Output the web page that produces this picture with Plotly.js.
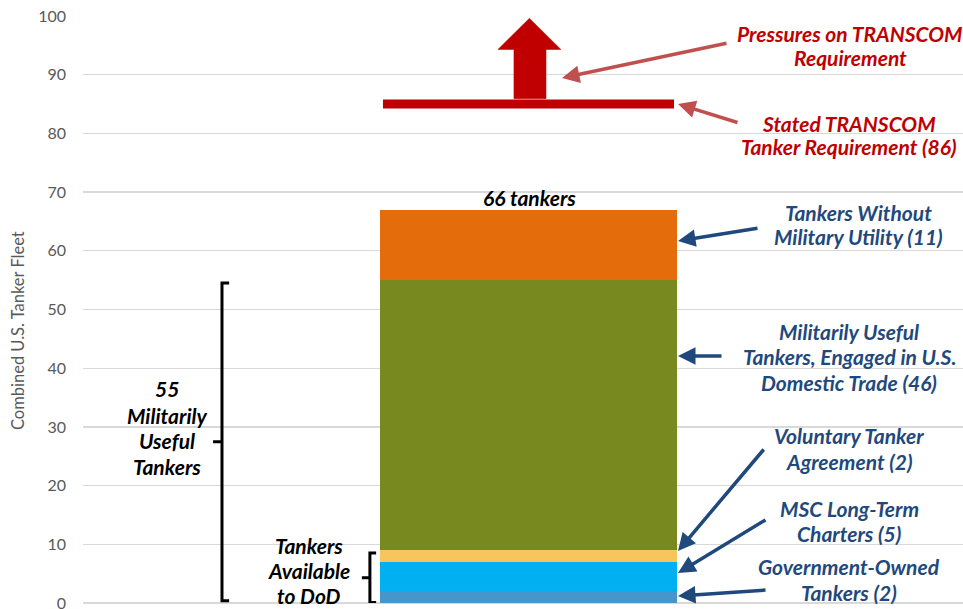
<!DOCTYPE html>
<html>
<head>
<meta charset="utf-8">
<script src="https://cdn.plot.ly/plotly-3.0.1.min.js"></script>
<style>html,body{margin:0;padding:0;background:#fff;}#chart{width:963px;height:609px;}</style>
</head>
<body>
<div id="chart"></div>
<script>
// ---- data ----
var segmentNames = ["Government-Owned Tankers", "MSC Long-Term Charters", "Voluntary Tanker Agreement",
  "Militarily Useful Tankers, Engaged in U.S. Domestic Trade", "Tankers Without Military Utility"];
var segmentValues = [2, 5, 2, 46, 12];
var segmentColors = ["#4696CC", "#00B0F0", "#F6C55B", "#77891F", "#E46C0A"];
var requirementValue = 85;
var militarilyUseful = 55;
var availableToDoD = 9;
var yTicks = [0, 10, 20, 30, 40, 50, 60, 70, 80, 90, 100];

// ---- geometry helpers (pixel -> paper) ----
var L = 83, R = 963, T = 16, B = 603;
function px(x) { return (x - L) / (R - L); }
function py(y) { return (B - y) / (B - T); }

var FONT = "Lato, 'Open Sans', sans-serif";
var BLUE = "#1F497D", RED = "#C00000", ARED = "#C0504D";
var LSIZE = 21;

var traces = segmentNames.map(function (n, i) {
  return {
    type: "bar", x: [0], y: [segmentValues[i]], name: n, width: [1],
    marker: { color: segmentColors[i] }, hoverinfo: "skip", showlegend: false
  };
});
traces.push({
  type: "scatter", mode: "lines", x: [-0.49, 0.49], y: [requirementValue, requirementValue],
  line: { color: RED, width: 9 }, hoverinfo: "skip", showlegend: false
});

var annotations = [];
function label(lines, cx, ys, color, size) {
  lines.forEach(function (t, i) {
    annotations.push({
      xref: "paper", yref: "paper", x: px(cx), y: py(ys[i]), xanchor: "center", yanchor: "middle",
      text: "<b><i>" + t + "</i></b>", showarrow: false,
      font: { family: FONT, size: size || LSIZE, color: color }
    });
  });
}
function arrow(hx, hy, tx, ty, color) {
  annotations.push({
    xref: "paper", yref: "paper", x: px(hx), y: py(hy), ax: tx - hx, ay: ty - hy,
    text: "", showarrow: true, arrowhead: 2, arrowsize: 1, arrowwidth: 3.5, arrowcolor: color, standoff: 0
  });
}

label(["Pressures on TRANSCOM", "Requirement"], 850, [33, 57], RED);
label(["Stated TRANSCOM", "Tanker Requirement (86)"], 849, [123, 147], RED);
label(["66 tankers"], 529, [197], "#000");
label(["Tankers Without", "Military Utility (11)"], 858, [212, 237], BLUE);
label(["Militarily Useful", "Tankers, Engaged in U.S.", "Domestic Trade (46)"], 849, [331, 356, 382], BLUE);
label(["Voluntary Tanker", "Agreement (2)"], 849, [435, 461], BLUE);
label(["MSC Long-Term", "Charters (5)"], 849, [508, 533], BLUE);
label(["Government-Owned", "Tankers (2)"], 849, [566, 592], BLUE);
label(["55", "Militarily", "Useful", "Tankers"], 167, [389, 415, 440, 466], "#000");
label(["Tankers", "Available", "to DoD"], 309, [545, 570, 595], "#000");

arrow(562, 78, 728, 43, ARED);
arrow(678, 104, 739, 123, ARED);
arrow(678, 241, 759, 228, BLUE);
arrow(678, 356, 723, 356, BLUE);
arrow(678, 551, 765, 448, BLUE);
arrow(678, 573, 767, 519, BLUE);
arrow(678, 596, 767, 590, BLUE);

annotations.push({
  xref: "paper", yref: "paper", x: px(18), y: py(331), xanchor: "center", yanchor: "middle",
  text: "Combined U.S. Tanker Fleet", textangle: -90, showarrow: false,
  font: { family: FONT, size: 16.5, color: "#595959" }
});

// brackets and block arrow
function bracketPath(xv, xh, xt, y0, y1) {
  var ym = (y0 + y1) / 2;
  return "M" + xh + "," + y1 + " L" + xv + "," + y1 + " L" + xv + "," + y0 + " L" + xh + "," + y0 +
    " M" + xv + "," + ym + " L" + xt + "," + ym;
}
var shapes = [
  { type: "path", xref: "x", yref: "y", path: bracketPath(-1.032, -1.008, -1.062, 0.4, militarilyUseful - 0.5),
    line: { color: "#000", width: 3 } },
  { type: "path", xref: "x", yref: "y", path: bracketPath(-0.534, -0.513, -0.561, 0.1, availableToDoD - 0.5),
    line: { color: "#000", width: 3 } },
  { type: "path", xref: "x", yref: "y",
    path: "M-0.049," + (requirementValue + 0.9) + " L-0.049,94.3 L-0.103,94.3 L0.003,99.6 L0.109,94.3 L0.059,94.3 L0.059," + (requirementValue + 0.9) + " Z",
    fillcolor: RED, line: { color: RED, width: 0.5 } }
];

var layout = {
  width: 963, height: 609,
  margin: { l: L, r: 963 - R, t: T, b: 609 - B, pad: 0 },
  paper_bgcolor: "#fff", plot_bgcolor: "#fff",
  barmode: "stack", showlegend: false,
  xaxis: { range: [-1.5, 1.463], showgrid: false, zeroline: false, showticklabels: false, showline: false, fixedrange: true },
  yaxis: {
    range: [0, 100], tickvals: yTicks, ticktext: yTicks.map(String),
    gridcolor: "#D9D9D9", gridwidth: 1.3, zeroline: true, zerolinecolor: "#D9D9D9", zerolinewidth: 1.3,
    showline: false, ticks: "", ticklabelstandoff: 16, ticklabeloverflow: "allow",
    tickfont: { family: FONT, size: 16, color: "#595959" }, fixedrange: true
  },
  annotations: annotations,
  shapes: shapes
};

Plotly.newPlot("chart", traces, layout, { displayModeBar: false, staticPlot: true });
</script>
</body>
</html>
